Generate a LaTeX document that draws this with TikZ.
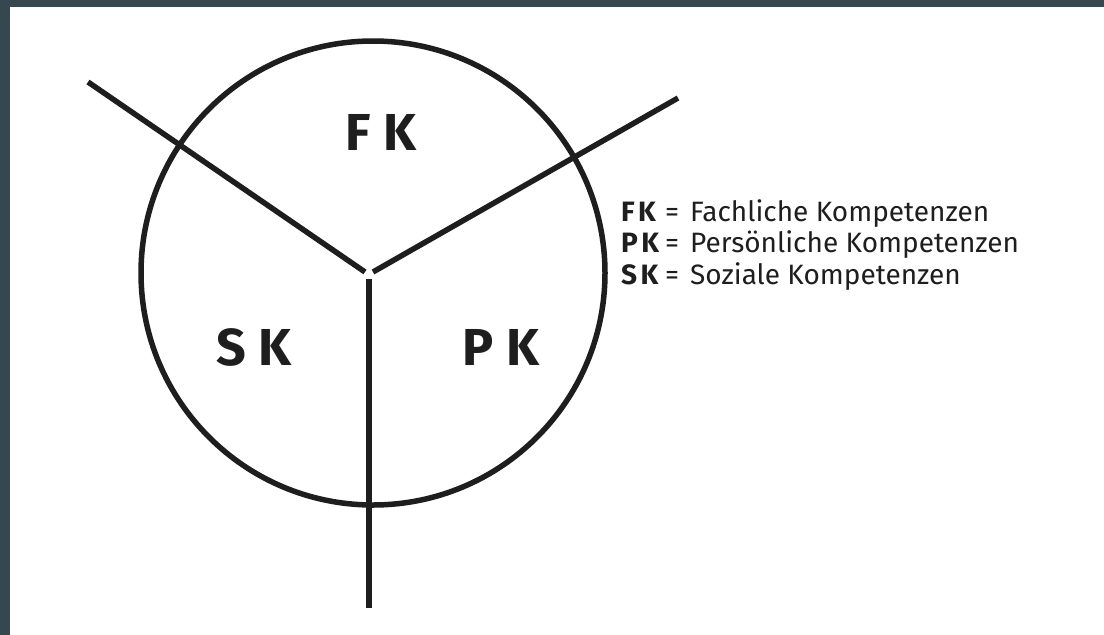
\documentclass[tikz,border=0pt]{standalone}
\usepackage{fontspec}
\setmainfont{Fira Sans}
\definecolor{frame}{RGB}{55,71,79}
\definecolor{ink}{RGB}{30,30,30}

\begin{document}
\begin{tikzpicture}[x=1pt,y=1pt,yscale=-1]
\tikzset{
  bigkey/.style={inner sep=0pt,font=\fontsize{52}{56}\selectfont\bfseries,text=ink},
  legkey/.style={anchor=base west,inner sep=0pt,font=\fontsize{28}{32}\selectfont\bfseries,text=ink},
  legtxt/.style={anchor=base west,inner sep=0pt,font=\fontsize{28}{32}\selectfont,text=ink}
}
%set diagram: 1104 x 635
\useasboundingbox (0,0) rectangle (1104,635);
\fill [frame] (0,0) rectangle (1104,635);
\fill [white] (10,7) rectangle (1104,635);

%Shape: Circle
\draw [color=ink,line width=5.5] (373,273) circle [radius=232];
%Straight Lines
\draw [color=ink,line width=5.5] (88,82) -- (365,272) ;
%Straight Lines
\draw [color=ink,line width=5.5] (678,98) -- (373,272) ;
%Straight Lines
\draw [color=ink,line width=5.5] (369,279) -- (369,608) ;

% Text Node
\node [bigkey] (fk) at (381,132) {F\hspace{0.25em}K};
% Text Node
\node [bigkey] (sk) at (254,347) {S\hspace{0.25em}K};
% Text Node
\node [bigkey] (pk) at (501,347) {P\hspace{0.25em}K};

% Legend
\node [legkey] (lfk) at (621,221) {F\hspace{0.12em}K};
\node [legtxt] (lfkeq) at (665,221) {=};
\node [legtxt] (lfktxt) at (690,221) {Fachliche Kompetenzen};
\node [legkey] (lpk) at (621,252) {P\hspace{0.12em}K};
\node [legtxt] (lpkeq) at (665,252) {=};
\node [legtxt] (lpktxt) at (690,252) {Persönliche Kompetenzen};
\node [legkey] (lsk) at (621,284) {S\hspace{0.12em}K};
\node [legtxt] (lskeq) at (665,284) {=};
\node [legtxt] (lsktxt) at (690,284) {Soziale Kompetenzen};

\end{tikzpicture}
\end{document}
